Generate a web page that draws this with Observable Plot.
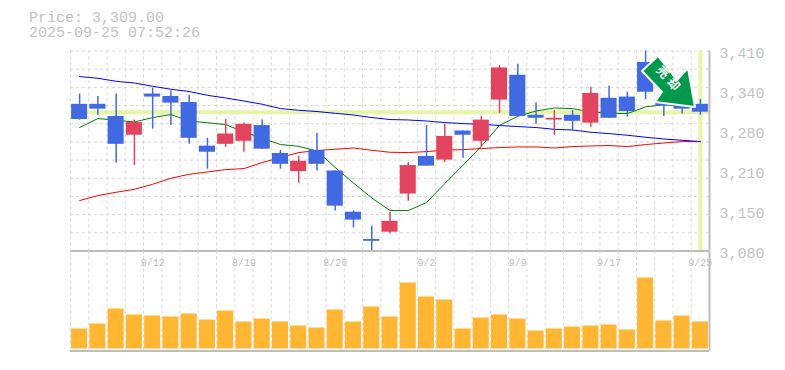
<!DOCTYPE html>
<html><head><meta charset="utf-8">
<script src="https://cdn.jsdelivr.net/npm/d3@7"></script>
<script src="https://cdn.jsdelivr.net/npm/@observablehq/plot@0.6"></script>
<style>
html,body{margin:0;padding:0;background:#fff;width:785px;height:370px;overflow:hidden}
#wrap{position:relative;width:785px;height:370px}
#wrap>svg,#wrap>div{position:absolute}
#head{left:29px;top:11px;font:15px/15px "Liberation Mono",monospace;color:#c2c2c2;white-space:pre}
</style></head><body><div id="wrap"><div id="head">Price: 3,309.00
2025-09-25 07:52:26</div></div>
<script>
const dates=["8/5","8/6","8/7","8/8","8/12","8/13","8/14","8/15","8/18","8/19","8/20","8/21","8/22","8/25","8/26","8/27","8/28","8/29","9/1","9/2","9/3","9/4","9/5","9/8","9/9","9/10","9/11","9/12","9/16","9/17","9/18","9/19","9/22","9/24","9/25"];
const labelledDates=["8/12","8/19","8/26","9/2","9/9","9/17","9/25"];
const opens=[3322,3322,3302,3271,3339,3335,3325,3253,3256,3261,3287,3241,3211,3246,3212,3144,3099,3111,3174,3236,3230,3278,3261,3329,3370,3304,3296,3304,3291,3332,3334,3391,3324,3319,3322];
const closes=[3297,3314,3256,3292,3334,3324,3266,3243,3273,3289,3248,3223,3228,3223,3154,3131,3096,3129,3221,3220,3269,3271,3296,3382,3302,3299,3299,3294,3340,3299,3310,3342,3319,3314,3309];
const highs=[3339,3335,3339,3296,3349,3344,3337,3266,3297,3291,3296,3246,3236,3274,3212,3146,3121,3144,3226,3287,3289,3278,3302,3386,3388,3324,3312,3312,3350,3352,3342,3410,3335,3330,3330];
const lows=[3296,3304,3225,3221,3281,3287,3256,3215,3251,3243,3248,3215,3192,3212,3146,3118,3080,3108,3162,3220,3226,3233,3251,3307,3302,3289,3271,3278,3284,3299,3301,3330,3302,3306,3304];
const maShort=[3283.7,3298.5,3295.7,3292.9,3300.2,3305.1,3294.5,3291.6,3288.6,3276.4,3266,3255.6,3252.8,3245,3217.7,3192.2,3167.5,3146.7,3146.7,3159.9,3191.2,3221.4,3252.8,3287.4,3302.3,3311,3316,3315,3309.4,3307.2,3306.8,3317.7,3321.6,3318.8,3317.1];
const maMid=[3163.2,3171.5,3176.9,3181.8,3190.1,3200,3206.6,3210.4,3214.3,3216,3225.9,3234.2,3242.4,3245.7,3247.9,3250,3246.2,3242.9,3242.4,3244,3246.2,3247.3,3249,3250.7,3251.7,3251.7,3250,3252.3,3253.3,3254,3252.3,3255.6,3258.2,3260.5,3260.5];
const maLong=[3367.8,3365,3360,3357.2,3351.8,3346.9,3343.1,3336.9,3332.5,3327.5,3322.1,3315,3312.2,3310.1,3307.2,3304.4,3300.2,3296.9,3296.2,3294.5,3291.9,3290.2,3289.1,3287,3285.3,3283.7,3280.8,3279.7,3275.9,3273.7,3271,3267.7,3264.8,3262.7,3260.6];
const volume=[20,25,40,34,33,32,35,29,38,27,30,27,23,21,39,27,42,32,66,52,49,20,31,34,30,18,20,22,23,24,19,71,28,33,27];
const priceTicks=[3410,3344,3278,3212,3146,3080];
const priceNow=3309;
const priceGrid=d3.range(12).map(k=>3080+k*30);
const idx=dates.map((_,i)=>i);
const xGrid=d3.range(35).map(i=>i-0.5);
const xDomain=[-0.5,34.5];
const halfBody=0.44;
const UP="#e2445f",DOWN="#4169e1",GRID="#d6d6d6",AXIS="#bdbdbd",TXT="#c2c2c2";
const colorOf=i=>closes[i]>=opens[i]?UP:DOWN;
const font='"Liberation Mono",monospace';
const line=(arr,stroke)=>Plot.line(idx,{x:i=>i,y:i=>arr[i],stroke,strokeWidth:1,curve:"linear"});

const pricePanel=Plot.plot({
  width:785,height:260,marginTop:50.5,marginBottom:9.5,marginLeft:70,marginRight:76,
  style:{background:"transparent",overflow:"visible"},
  x:{domain:xDomain,axis:null},
  y:{domain:[3080,3410],axis:null},
  marks:[
    Plot.ruleY(priceGrid,{stroke:GRID,strokeDasharray:"3,3"}),
    Plot.ruleX(xGrid,{stroke:GRID,strokeDasharray:"3,3"}),
    Plot.ruleY([priceNow],{stroke:"#e6f5a8",strokeWidth:4}),
    Plot.ruleX([34],{stroke:"#e6f5a8",strokeWidth:4}),
    line(maMid,"#ff0000"),
    line(maLong,"#0000ff"),
    line(maShort,"#008000"),
    Plot.ruleX(idx,{x:i=>i,y1:i=>lows[i],y2:i=>highs[i],stroke:colorOf,strokeWidth:1.5}),
    Plot.rect(idx,{x1:i=>i-halfBody,x2:i=>i+halfBody,y1:i=>opens[i],y2:i=>closes[i],fill:colorOf}),
    Plot.ruleX([34.5],{stroke:AXIS,strokeWidth:2}),
    Plot.ruleY([3080],{stroke:AXIS,strokeWidth:2}),
    Plot.text(priceTicks,{x:34.5,y:d=>d,text:d=>d3.format(",")(Math.round(d/10)*10),dx:10,dy:2,textAnchor:"start",fontFamily:font,fontSize:15,fill:TXT})
  ]
});
pricePanel.style.left="0";pricePanel.style.top="0";
document.getElementById("wrap").append(pricePanel);

const volumePanel=Plot.plot({
  width:785,height:120,marginTop:0.5,marginBottom:19.5,marginLeft:70,marginRight:76,
  style:{background:"transparent",overflow:"visible"},
  x:{domain:xDomain,axis:null},
  y:{domain:[-2,98],axis:null},
  marks:[
    Plot.ruleX(xGrid,{stroke:GRID,strokeDasharray:"3,3"}),
    Plot.rect(idx,{x1:i=>i-halfBody,x2:i=>i+halfBody,y1:0,y2:i=>volume[i],fill:"#ffb733"}),
    Plot.ruleX([34.5],{stroke:AXIS,strokeWidth:2}),
    Plot.ruleY([-2],{stroke:AXIS,strokeWidth:2}),
    Plot.text(labelledDates,{x:d=>dates.indexOf(d),frameAnchor:"top",dy:8,text:d=>d,fontFamily:font,fontSize:10,fill:"#bdbdbd"})
  ]
});
volumePanel.style.left="0";volumePanel.style.top="250px";
document.getElementById("wrap").append(volumePanel);

/* signal badge drawn over the price panel */
const badge=d3.create("svg").attr("width",785).attr("height",370).style("left","0").style("top","0").style("pointer-events","none");
badge.append("path").attr("d","M658 56L642 71L662 92L655 102L695 107L688 68L677 80Z").attr("fill","#00994a").attr("stroke","#fff").attr("stroke-width",2).attr("stroke-linejoin","round");
[["売",662,73],["却",673,85]].forEach(([t,x,y])=>badge.append("text").attr("transform",`translate(${x},${y}) rotate(47)`).attr("text-anchor","middle").attr("dominant-baseline","middle").attr("font-family",'"Noto Sans CJK JP"').attr("font-weight",700).attr("font-size",12).attr("fill","#fff").text(t));
document.getElementById("wrap").append(badge.node());
</script></body></html>
